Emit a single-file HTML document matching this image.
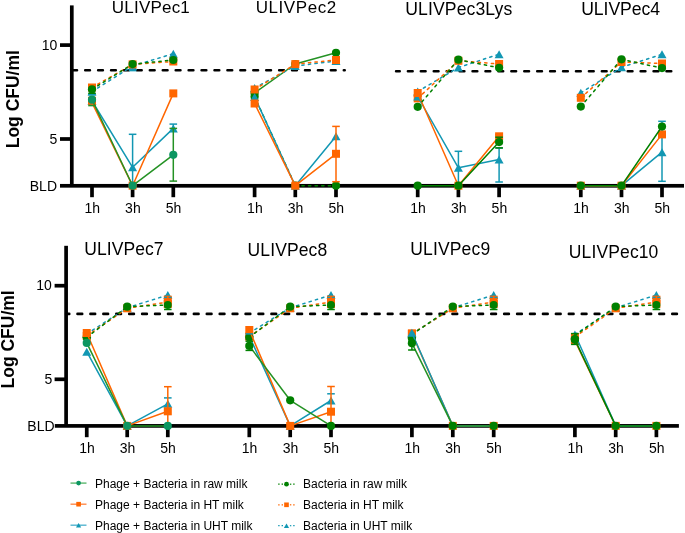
<!DOCTYPE html>
<html><head><meta charset="utf-8"><style>
html,body{margin:0;padding:0;background:#fff;}
svg{display:block;will-change:transform;}
text{font-family:"Liberation Sans",sans-serif;fill:#000;}
</style></head><body>
<svg width="685" height="533" viewBox="0 0 685 533">
<rect width="685" height="533" fill="#fff"/>
<rect x="60" y="183.95" width="624" height="3.7" fill="#000"/>
<rect x="69.95" y="5.4" width="3.7" height="180.4" fill="#000"/>
<rect x="60" y="43.25" width="11.8" height="3.7" fill="#000"/>
<rect x="60" y="137.15" width="11.8" height="3.7" fill="#000"/>
<rect x="90.15" y="185" width="3.7" height="12.2" fill="#000"/>
<rect x="130.75" y="185" width="3.7" height="12.2" fill="#000"/>
<rect x="171.45" y="185" width="3.7" height="12.2" fill="#000"/>
<rect x="252.75" y="185" width="3.7" height="12.2" fill="#000"/>
<rect x="293.45" y="185" width="3.7" height="12.2" fill="#000"/>
<rect x="334.15" y="185" width="3.7" height="12.2" fill="#000"/>
<rect x="415.85" y="185" width="3.7" height="12.2" fill="#000"/>
<rect x="456.55" y="185" width="3.7" height="12.2" fill="#000"/>
<rect x="497.25" y="185" width="3.7" height="12.2" fill="#000"/>
<rect x="578.95" y="185" width="3.7" height="12.2" fill="#000"/>
<rect x="619.65" y="185" width="3.7" height="12.2" fill="#000"/>
<rect x="660.15" y="185" width="3.7" height="12.2" fill="#000"/>
<rect x="54.8" y="424.05" width="624.1" height="3.7" fill="#000"/>
<rect x="64.25" y="245.8" width="3.7" height="180.1" fill="#000"/>
<rect x="54.6" y="283.85" width="11.5" height="3.7" fill="#000"/>
<rect x="54.6" y="377.45" width="11.5" height="3.7" fill="#000"/>
<rect x="84.9" y="425" width="3.7" height="12.2" fill="#000"/>
<rect x="125.35" y="425" width="3.7" height="12.2" fill="#000"/>
<rect x="165.95" y="425" width="3.7" height="12.2" fill="#000"/>
<rect x="247.45" y="425" width="3.7" height="12.2" fill="#000"/>
<rect x="288.35" y="425" width="3.7" height="12.2" fill="#000"/>
<rect x="329.15" y="425" width="3.7" height="12.2" fill="#000"/>
<rect x="410.05" y="425" width="3.7" height="12.2" fill="#000"/>
<rect x="450.95" y="425" width="3.7" height="12.2" fill="#000"/>
<rect x="491.85" y="425" width="3.7" height="12.2" fill="#000"/>
<rect x="573.05" y="425" width="3.7" height="12.2" fill="#000"/>
<rect x="613.85" y="425" width="3.7" height="12.2" fill="#000"/>
<rect x="654.55" y="425" width="3.7" height="12.2" fill="#000"/>
<line x1="72.3" y1="70.2" x2="344.7" y2="70.2" stroke="#000" stroke-width="2.6" stroke-linecap="round" stroke-dasharray="4.7 8.23"/>
<line x1="396.1" y1="71.3" x2="671.5" y2="71.3" stroke="#000" stroke-width="2.6" stroke-linecap="round" stroke-dasharray="4.7 8.23" stroke-dashoffset="1.1"/>
<line x1="66.1" y1="313.9" x2="676.9" y2="313.9" stroke="#000" stroke-width="2.6" stroke-linecap="round" stroke-dasharray="4.7 8.23" stroke-dashoffset="1.53"/>
<line x1="92" y1="91.6" x2="132.6" y2="66" stroke="#1297b3" stroke-width="1.5" stroke-linecap="round" stroke-dasharray="2.3 4.3"/>
<line x1="132.6" y1="66" x2="173.3" y2="53.7" stroke="#1297b3" stroke-width="1.5" stroke-linecap="round" stroke-dasharray="2.3 4.3"/>
<line x1="128.8" y1="70.6" x2="136.4" y2="70.6" stroke="#1297b3" stroke-width="1.5" stroke-linecap="butt"/>
<polygon points="92,87.6 87.5,95.6 96.5,95.6" fill="#1297b3"/>
<polygon points="132.6,62 128.1,70 137.1,70" fill="#1297b3"/>
<polygon points="173.3,49.7 168.8,57.7 177.8,57.7" fill="#1297b3"/>
<line x1="92" y1="87.5" x2="132.6" y2="64.4" stroke="#ff6600" stroke-width="1.5" stroke-linecap="round" stroke-dasharray="2.3 4.3"/>
<line x1="132.6" y1="64.4" x2="173.3" y2="61.5" stroke="#ff6600" stroke-width="1.5" stroke-linecap="round" stroke-dasharray="2.3 4.3"/>
<rect x="88" y="83.5" width="8" height="8" fill="#ff6600"/>
<rect x="128.6" y="60.4" width="8" height="8" fill="#ff6600"/>
<rect x="169.3" y="57.5" width="8" height="8" fill="#ff6600"/>
<line x1="92" y1="89.3" x2="132.6" y2="64.1" stroke="#008000" stroke-width="1.5" stroke-linecap="round" stroke-dasharray="2.3 4.3"/>
<line x1="132.6" y1="64.1" x2="173.3" y2="60" stroke="#008000" stroke-width="1.5" stroke-linecap="round" stroke-dasharray="2.3 4.3"/>
<line x1="88.2" y1="93.3" x2="95.8" y2="93.3" stroke="#008000" stroke-width="1.5" stroke-linecap="butt"/>
<circle cx="92" cy="89.3" r="4.1" fill="#008000"/>
<circle cx="132.6" cy="64.1" r="4.1" fill="#008000"/>
<circle cx="173.3" cy="60" r="4.1" fill="#008000"/>
<polyline points="92,101 132.6,167.3 173.3,128.4" fill="none" stroke="#1297b3" stroke-width="1.5" stroke-linejoin="round"/>
<line x1="132.6" y1="134.3" x2="132.6" y2="185.7" stroke="#1297b3" stroke-width="1.5" stroke-linecap="butt"/>
<line x1="128.8" y1="134.3" x2="136.4" y2="134.3" stroke="#1297b3" stroke-width="1.5" stroke-linecap="butt"/>
<line x1="173.3" y1="124.1" x2="173.3" y2="128" stroke="#1297b3" stroke-width="1.5" stroke-linecap="butt"/>
<line x1="169.5" y1="124.1" x2="177.1" y2="124.1" stroke="#1297b3" stroke-width="1.5" stroke-linecap="butt"/>
<line x1="88.2" y1="94.8" x2="95.8" y2="94.8" stroke="#1297b3" stroke-width="1.5" stroke-linecap="butt"/>
<polygon points="92,97 87.5,105 96.5,105" fill="#1297b3"/>
<polygon points="132.6,163.3 128.1,171.3 137.1,171.3" fill="#1297b3"/>
<polygon points="173.3,124.4 168.8,132.4 177.8,132.4" fill="#1297b3"/>
<polyline points="92,102.6 132.6,185.7 173.3,93.4" fill="none" stroke="#ff6600" stroke-width="1.5" stroke-linejoin="round"/>
<rect x="88" y="96.8" width="8" height="8" fill="#ff6600"/>
<rect x="128.6" y="181.7" width="8" height="8" fill="#ff6600"/>
<rect x="169.3" y="89.4" width="8" height="8" fill="#ff6600"/>
<polyline points="92,99.7 132.6,185.7 173.3,154.8" fill="none" stroke="#249224" stroke-width="1.5" stroke-linejoin="round"/>
<line x1="173.3" y1="128.4" x2="173.3" y2="181.1" stroke="#249224" stroke-width="1.5" stroke-linecap="butt"/>
<line x1="169.5" y1="128.4" x2="177.1" y2="128.4" stroke="#249224" stroke-width="1.5" stroke-linecap="butt"/>
<line x1="169.5" y1="181.1" x2="177.1" y2="181.1" stroke="#249224" stroke-width="1.5" stroke-linecap="butt"/>
<line x1="88.2" y1="105.6" x2="95.8" y2="105.6" stroke="#249224" stroke-width="1.5" stroke-linecap="butt"/>
<circle cx="92" cy="99.7" r="4.1" fill="#0c9661"/>
<circle cx="132.6" cy="185.7" r="4.1" fill="#0c9661"/>
<circle cx="173.3" cy="154.8" r="4.1" fill="#0c9661"/>
<polyline points="254.6,92.9 295.3,64 336,52.8" fill="none" stroke="#249224" stroke-width="1.5" stroke-linejoin="round"/>
<circle cx="254.6" cy="92.9" r="4.1" fill="#008000"/>
<circle cx="295.3" cy="64" r="4.1" fill="#008000"/>
<circle cx="336" cy="52.8" r="4.1" fill="#008000"/>
<line x1="254.6" y1="96.7" x2="295.3" y2="185.7" stroke="#008000" stroke-width="1.5" stroke-linecap="round" stroke-dasharray="2.3 4.3"/>
<line x1="295.3" y1="185.7" x2="336" y2="185.7" stroke="#008000" stroke-width="1.5" stroke-linecap="round" stroke-dasharray="2.3 4.3"/>
<circle cx="254.6" cy="96.7" r="4.1" fill="#008000"/>
<circle cx="295.3" cy="185.7" r="4.1" fill="#008000"/>
<circle cx="336" cy="185.7" r="4.1" fill="#008000"/>
<line x1="254.6" y1="88" x2="295.3" y2="66" stroke="#1297b3" stroke-width="1.5" stroke-linecap="round" stroke-dasharray="2.3 4.3"/>
<line x1="295.3" y1="66" x2="336" y2="61" stroke="#1297b3" stroke-width="1.5" stroke-linecap="round" stroke-dasharray="2.3 4.3"/>
<polygon points="254.6,84 250.1,92 259.1,92" fill="#1297b3"/>
<polygon points="295.3,62 290.8,70 299.8,70" fill="#1297b3"/>
<polygon points="336,57 331.5,65 340.5,65" fill="#1297b3"/>
<polyline points="254.6,96.9 295.3,185.7 336,136.2" fill="none" stroke="#1297b3" stroke-width="1.5" stroke-linejoin="round"/>
<polygon points="254.6,92.9 250.1,100.9 259.1,100.9" fill="#1297b3"/>
<polygon points="295.3,181.7 290.8,189.7 299.8,189.7" fill="#1297b3"/>
<polygon points="336,132.2 331.5,140.2 340.5,140.2" fill="#1297b3"/>
<line x1="254.6" y1="89.5" x2="295.3" y2="64.1" stroke="#ff6600" stroke-width="1.5" stroke-linecap="round" stroke-dasharray="2.3 4.3"/>
<line x1="295.3" y1="64.1" x2="336" y2="60" stroke="#ff6600" stroke-width="1.5" stroke-linecap="round" stroke-dasharray="2.3 4.3"/>
<rect x="250.6" y="85.5" width="8" height="8" fill="#ff6600"/>
<rect x="291.3" y="60.1" width="8" height="8" fill="#ff6600"/>
<rect x="332" y="56" width="8" height="8" fill="#ff6600"/>
<polyline points="254.6,103.5 295.3,185.7 336,153.8" fill="none" stroke="#ff6600" stroke-width="1.5" stroke-linejoin="round"/>
<line x1="336" y1="126.4" x2="336" y2="181.7" stroke="#ff6600" stroke-width="1.5" stroke-linecap="butt"/>
<line x1="332.2" y1="126.4" x2="339.8" y2="126.4" stroke="#ff6600" stroke-width="1.5" stroke-linecap="butt"/>
<line x1="332.2" y1="181.7" x2="339.8" y2="181.7" stroke="#ff6600" stroke-width="1.5" stroke-linecap="butt"/>
<rect x="250.6" y="99.5" width="8" height="8" fill="#ff6600"/>
<rect x="291.3" y="181.7" width="8" height="8" fill="#ff6600"/>
<rect x="332" y="149.8" width="8" height="8" fill="#ff6600"/>
<line x1="417.7" y1="91.5" x2="458.4" y2="67.5" stroke="#1297b3" stroke-width="1.5" stroke-linecap="round" stroke-dasharray="2.3 4.3"/>
<line x1="458.4" y1="67.5" x2="499.1" y2="54.2" stroke="#1297b3" stroke-width="1.5" stroke-linecap="round" stroke-dasharray="2.3 4.3"/>
<polygon points="417.7,87.5 413.2,95.5 422.2,95.5" fill="#1297b3"/>
<polygon points="458.4,63.5 453.9,71.5 462.9,71.5" fill="#1297b3"/>
<polygon points="499.1,50.2 494.6,58.2 503.6,58.2" fill="#1297b3"/>
<line x1="417.7" y1="98.4" x2="458.4" y2="60.8" stroke="#ff6600" stroke-width="1.5" stroke-linecap="round" stroke-dasharray="2.3 4.3"/>
<line x1="458.4" y1="60.8" x2="499.1" y2="64" stroke="#ff6600" stroke-width="1.5" stroke-linecap="round" stroke-dasharray="2.3 4.3"/>
<rect x="413.7" y="94.4" width="8" height="8" fill="#ff6600"/>
<rect x="454.4" y="56.8" width="8" height="8" fill="#ff6600"/>
<rect x="495.1" y="60" width="8" height="8" fill="#ff6600"/>
<polyline points="417.7,96.5 458.4,167.8 499.1,159.5" fill="none" stroke="#1297b3" stroke-width="1.5" stroke-linejoin="round"/>
<line x1="458.4" y1="151.3" x2="458.4" y2="185.7" stroke="#1297b3" stroke-width="1.5" stroke-linecap="butt"/>
<line x1="454.6" y1="151.3" x2="462.2" y2="151.3" stroke="#1297b3" stroke-width="1.5" stroke-linecap="butt"/>
<line x1="499.1" y1="148" x2="499.1" y2="182" stroke="#1297b3" stroke-width="1.5" stroke-linecap="butt"/>
<line x1="495.3" y1="148" x2="502.9" y2="148" stroke="#1297b3" stroke-width="1.5" stroke-linecap="butt"/>
<line x1="495.3" y1="182" x2="502.9" y2="182" stroke="#1297b3" stroke-width="1.5" stroke-linecap="butt"/>
<polygon points="417.7,92.5 413.2,100.5 422.2,100.5" fill="#1297b3"/>
<polygon points="458.4,163.8 453.9,171.8 462.9,171.8" fill="#1297b3"/>
<polygon points="499.1,155.5 494.6,163.5 503.6,163.5" fill="#1297b3"/>
<polyline points="417.7,93 458.4,185.7 499.1,136.3" fill="none" stroke="#ff6600" stroke-width="1.5" stroke-linejoin="round"/>
<line x1="495.3" y1="134.8" x2="502.9" y2="134.8" stroke="#ff6600" stroke-width="1.5" stroke-linecap="butt"/>
<rect x="413.7" y="89" width="8" height="8" fill="#ff6600"/>
<rect x="454.4" y="181.7" width="8" height="8" fill="#ff6600"/>
<rect x="495.1" y="132.3" width="8" height="8" fill="#ff6600"/>
<line x1="417.7" y1="106.8" x2="458.4" y2="59.7" stroke="#008000" stroke-width="1.5" stroke-linecap="round" stroke-dasharray="2.3 4.3"/>
<line x1="458.4" y1="59.7" x2="499.1" y2="67.8" stroke="#008000" stroke-width="1.5" stroke-linecap="round" stroke-dasharray="2.3 4.3"/>
<circle cx="417.7" cy="106.8" r="4.1" fill="#008000"/>
<circle cx="458.4" cy="59.7" r="4.1" fill="#008000"/>
<circle cx="499.1" cy="67.8" r="4.1" fill="#008000"/>
<polyline points="417.7,185.7 458.4,185.7 499.1,142.1" fill="none" stroke="#008000" stroke-width="1.5" stroke-linejoin="round"/>
<line x1="495.3" y1="137.2" x2="502.9" y2="137.2" stroke="#008000" stroke-width="1.5" stroke-linecap="butt"/>
<line x1="495.3" y1="147.9" x2="502.9" y2="147.9" stroke="#008000" stroke-width="1.5" stroke-linecap="butt"/>
<circle cx="417.7" cy="185.7" r="4.1" fill="#008000"/>
<circle cx="458.4" cy="185.7" r="4.1" fill="#008000"/>
<circle cx="499.1" cy="142.1" r="4.1" fill="#008000"/>
<line x1="580.8" y1="92.8" x2="621.5" y2="67.3" stroke="#1297b3" stroke-width="1.5" stroke-linecap="round" stroke-dasharray="2.3 4.3"/>
<line x1="621.5" y1="67.3" x2="662" y2="54.3" stroke="#1297b3" stroke-width="1.5" stroke-linecap="round" stroke-dasharray="2.3 4.3"/>
<polygon points="580.8,88.8 576.3,96.8 585.3,96.8" fill="#1297b3"/>
<polygon points="621.5,63.3 617,71.3 626,71.3" fill="#1297b3"/>
<polygon points="662,50.3 657.5,58.3 666.5,58.3" fill="#1297b3"/>
<line x1="580.8" y1="97.8" x2="621.5" y2="62" stroke="#ff6600" stroke-width="1.5" stroke-linecap="round" stroke-dasharray="2.3 4.3"/>
<line x1="621.5" y1="62" x2="662" y2="63.5" stroke="#ff6600" stroke-width="1.5" stroke-linecap="round" stroke-dasharray="2.3 4.3"/>
<rect x="576.8" y="93.8" width="8" height="8" fill="#ff6600"/>
<rect x="617.5" y="58" width="8" height="8" fill="#ff6600"/>
<rect x="658" y="59.5" width="8" height="8" fill="#ff6600"/>
<line x1="580.8" y1="106.6" x2="621.5" y2="59.3" stroke="#008000" stroke-width="1.5" stroke-linecap="round" stroke-dasharray="2.3 4.3"/>
<line x1="621.5" y1="59.3" x2="662" y2="68.1" stroke="#008000" stroke-width="1.5" stroke-linecap="round" stroke-dasharray="2.3 4.3"/>
<circle cx="580.8" cy="106.6" r="4.1" fill="#008000"/>
<circle cx="621.5" cy="59.3" r="4.1" fill="#008000"/>
<circle cx="662" cy="68.1" r="4.1" fill="#008000"/>
<polyline points="580.8,185.7 621.5,185.7 662,152.2" fill="none" stroke="#1297b3" stroke-width="1.5" stroke-linejoin="round"/>
<line x1="662" y1="121.3" x2="662" y2="181.3" stroke="#1297b3" stroke-width="1.5" stroke-linecap="butt"/>
<line x1="658.2" y1="121.3" x2="665.8" y2="121.3" stroke="#1297b3" stroke-width="1.5" stroke-linecap="butt"/>
<line x1="658.2" y1="181.3" x2="665.8" y2="181.3" stroke="#1297b3" stroke-width="1.5" stroke-linecap="butt"/>
<polygon points="580.8,181.7 576.3,189.7 585.3,189.7" fill="#1297b3"/>
<polygon points="621.5,181.7 617,189.7 626,189.7" fill="#1297b3"/>
<polygon points="662,148.2 657.5,156.2 666.5,156.2" fill="#1297b3"/>
<polyline points="580.8,185.7 621.5,185.7 662,134.4" fill="none" stroke="#ff6600" stroke-width="1.5" stroke-linejoin="round"/>
<rect x="576.8" y="181.7" width="8" height="8" fill="#ff6600"/>
<rect x="617.5" y="181.7" width="8" height="8" fill="#ff6600"/>
<rect x="658" y="130.4" width="8" height="8" fill="#ff6600"/>
<polyline points="580.8,185.7 621.5,185.7 662,126.5" fill="none" stroke="#008000" stroke-width="1.5" stroke-linejoin="round"/>
<circle cx="580.8" cy="185.7" r="4.1" fill="#008000"/>
<circle cx="621.5" cy="185.7" r="4.1" fill="#008000"/>
<circle cx="662" cy="126.5" r="4.1" fill="#008000"/>
<line x1="86.75" y1="334" x2="127.2" y2="307.8" stroke="#1297b3" stroke-width="1.5" stroke-linecap="round" stroke-dasharray="2.3 4.3"/>
<line x1="127.2" y1="307.8" x2="167.8" y2="295" stroke="#1297b3" stroke-width="1.5" stroke-linecap="round" stroke-dasharray="2.3 4.3"/>
<polygon points="86.75,330 82.25,338 91.25,338" fill="#1297b3"/>
<polygon points="127.2,303.8 122.7,311.8 131.7,311.8" fill="#1297b3"/>
<line x1="86.75" y1="336" x2="127.2" y2="308.3" stroke="#ff6600" stroke-width="1.5" stroke-linecap="round" stroke-dasharray="2.3 4.3"/>
<line x1="127.2" y1="308.3" x2="167.8" y2="302" stroke="#ff6600" stroke-width="1.5" stroke-linecap="round" stroke-dasharray="2.3 4.3"/>
<rect x="82.75" y="332" width="8" height="8" fill="#ff6600"/>
<rect x="123.2" y="304.3" width="8" height="8" fill="#ff6600"/>
<line x1="86.75" y1="337.3" x2="127.2" y2="306.7" stroke="#008000" stroke-width="1.5" stroke-linecap="round" stroke-dasharray="2.3 4.3"/>
<line x1="127.2" y1="306.7" x2="167.8" y2="305" stroke="#008000" stroke-width="1.5" stroke-linecap="round" stroke-dasharray="2.3 4.3"/>
<line x1="82.95" y1="337.7" x2="90.55" y2="337.7" stroke="#008000" stroke-width="1.5" stroke-linecap="butt"/>
<circle cx="86.75" cy="337.3" r="4.1" fill="#008000"/>
<circle cx="127.2" cy="306.7" r="4.1" fill="#008000"/>
<polyline points="86.75,351.7 127.2,425.9 167.8,403.8" fill="none" stroke="#1297b3" stroke-width="1.5" stroke-linejoin="round"/>
<line x1="164" y1="397.9" x2="171.6" y2="397.9" stroke="#1297b3" stroke-width="1.5" stroke-linecap="butt"/>
<polygon points="86.75,347.7 82.25,355.7 91.25,355.7" fill="#1297b3"/>
<polygon points="127.2,421.9 122.7,429.9 131.7,429.9" fill="#1297b3"/>
<polygon points="167.8,399.8 163.3,407.8 172.3,407.8" fill="#1297b3"/>
<polyline points="86.75,333 127.2,425.9 167.8,411.3" fill="none" stroke="#ff6600" stroke-width="1.5" stroke-linejoin="round"/>
<line x1="167.8" y1="386.7" x2="167.8" y2="425.9" stroke="#ff6600" stroke-width="1.5" stroke-linecap="butt"/>
<line x1="164" y1="386.7" x2="171.6" y2="386.7" stroke="#ff6600" stroke-width="1.5" stroke-linecap="butt"/>
<rect x="82.75" y="329" width="8" height="8" fill="#ff6600"/>
<rect x="123.2" y="421.9" width="8" height="8" fill="#ff6600"/>
<rect x="163.8" y="407.3" width="8" height="8" fill="#ff6600"/>
<polyline points="86.75,342.9 127.2,425.9 167.8,425.9" fill="none" stroke="#249224" stroke-width="1.5" stroke-linejoin="round"/>
<circle cx="86.75" cy="342.9" r="4.1" fill="#0c9661"/>
<circle cx="127.2" cy="425.9" r="4.1" fill="#0c9661"/>
<circle cx="167.8" cy="425.9" r="4.1" fill="#0c9661"/>
<polygon points="167.8,290.9 163.3,298.9 172.3,298.9" fill="#1297b3"/>
<rect x="163.8" y="295.7" width="8" height="8" fill="#ff6600"/>
<line x1="164" y1="297.4" x2="171.6" y2="297.4" stroke="#1297b3" stroke-width="1.3" stroke-linecap="butt"/>
<line x1="167.8" y1="295.8" x2="167.8" y2="300" stroke="#ff6600" stroke-width="1.6" stroke-linecap="butt"/>
<rect x="163.8" y="300" width="8" height="8" fill="#ff6600"/>
<circle cx="167.8" cy="305" r="3.98" fill="#008000"/>
<line x1="164" y1="309.5" x2="171.6" y2="309.5" stroke="#008000" stroke-width="1.5" stroke-linecap="butt"/>
<line x1="249.3" y1="333" x2="290.2" y2="307.8" stroke="#1297b3" stroke-width="1.5" stroke-linecap="round" stroke-dasharray="2.3 4.3"/>
<line x1="290.2" y1="307.8" x2="331" y2="295" stroke="#1297b3" stroke-width="1.5" stroke-linecap="round" stroke-dasharray="2.3 4.3"/>
<polygon points="249.3,329 244.8,337 253.8,337" fill="#1297b3"/>
<polygon points="290.2,303.8 285.7,311.8 294.7,311.8" fill="#1297b3"/>
<polyline points="249.3,336 290.2,425.9 331,400.5" fill="none" stroke="#1297b3" stroke-width="1.5" stroke-linejoin="round"/>
<line x1="327.2" y1="393.8" x2="334.8" y2="393.8" stroke="#1297b3" stroke-width="1.5" stroke-linecap="butt"/>
<polygon points="249.3,332 244.8,340 253.8,340" fill="#1297b3"/>
<polygon points="290.2,421.9 285.7,429.9 294.7,429.9" fill="#1297b3"/>
<polygon points="331,396.5 326.5,404.5 335.5,404.5" fill="#1297b3"/>
<line x1="249.3" y1="336.6" x2="290.2" y2="308.3" stroke="#ff6600" stroke-width="1.5" stroke-linecap="round" stroke-dasharray="2.3 4.3"/>
<line x1="290.2" y1="308.3" x2="331" y2="302" stroke="#ff6600" stroke-width="1.5" stroke-linecap="round" stroke-dasharray="2.3 4.3"/>
<rect x="245.3" y="332.6" width="8" height="8" fill="#ff6600"/>
<rect x="286.2" y="304.3" width="8" height="8" fill="#ff6600"/>
<line x1="249.3" y1="337.25" x2="290.2" y2="306.7" stroke="#008000" stroke-width="1.5" stroke-linecap="round" stroke-dasharray="2.3 4.3"/>
<line x1="290.2" y1="306.7" x2="331" y2="305" stroke="#008000" stroke-width="1.5" stroke-linecap="round" stroke-dasharray="2.3 4.3"/>
<circle cx="249.3" cy="337.25" r="4.1" fill="#008000"/>
<circle cx="290.2" cy="306.7" r="4.1" fill="#008000"/>
<polyline points="249.3,330 290.2,425.9 331,411.7" fill="none" stroke="#ff6600" stroke-width="1.5" stroke-linejoin="round"/>
<line x1="331" y1="386.5" x2="331" y2="425.9" stroke="#ff6600" stroke-width="1.5" stroke-linecap="butt"/>
<line x1="327.2" y1="386.5" x2="334.8" y2="386.5" stroke="#ff6600" stroke-width="1.5" stroke-linecap="butt"/>
<rect x="245.3" y="326" width="8" height="8" fill="#ff6600"/>
<rect x="286.2" y="421.9" width="8" height="8" fill="#ff6600"/>
<rect x="327" y="407.7" width="8" height="8" fill="#ff6600"/>
<polyline points="249.3,345.9 290.2,400.3 331,425.9" fill="none" stroke="#249224" stroke-width="1.5" stroke-linejoin="round"/>
<line x1="245.5" y1="341.2" x2="253.1" y2="341.2" stroke="#008000" stroke-width="1.5" stroke-linecap="butt"/>
<line x1="245.5" y1="350.4" x2="253.1" y2="350.4" stroke="#008000" stroke-width="1.5" stroke-linecap="butt"/>
<circle cx="249.3" cy="345.9" r="4.1" fill="#008000"/>
<circle cx="290.2" cy="400.3" r="4.1" fill="#008000"/>
<circle cx="331" cy="425.9" r="4.1" fill="#008000"/>
<line x1="245.5" y1="333.9" x2="253.1" y2="333.9" stroke="#1297b3" stroke-width="1.5" stroke-linecap="butt"/>
<polygon points="331,290.9 326.5,298.9 335.5,298.9" fill="#1297b3"/>
<rect x="327" y="295.7" width="8" height="8" fill="#ff6600"/>
<line x1="327.2" y1="297.4" x2="334.8" y2="297.4" stroke="#1297b3" stroke-width="1.3" stroke-linecap="butt"/>
<line x1="331" y1="295.8" x2="331" y2="300" stroke="#ff6600" stroke-width="1.6" stroke-linecap="butt"/>
<rect x="327" y="300" width="8" height="8" fill="#ff6600"/>
<circle cx="331" cy="305" r="3.98" fill="#008000"/>
<line x1="327.2" y1="309.5" x2="334.8" y2="309.5" stroke="#008000" stroke-width="1.5" stroke-linecap="butt"/>
<line x1="411.9" y1="334" x2="452.8" y2="307.8" stroke="#1297b3" stroke-width="1.5" stroke-linecap="round" stroke-dasharray="2.3 4.3"/>
<line x1="452.8" y1="307.8" x2="493.7" y2="295" stroke="#1297b3" stroke-width="1.5" stroke-linecap="round" stroke-dasharray="2.3 4.3"/>
<polygon points="411.9,330 407.4,338 416.4,338" fill="#1297b3"/>
<polygon points="452.8,303.8 448.3,311.8 457.3,311.8" fill="#1297b3"/>
<line x1="411.9" y1="333.8" x2="452.8" y2="308.3" stroke="#ff6600" stroke-width="1.5" stroke-linecap="round" stroke-dasharray="2.3 4.3"/>
<line x1="452.8" y1="308.3" x2="493.7" y2="302" stroke="#ff6600" stroke-width="1.5" stroke-linecap="round" stroke-dasharray="2.3 4.3"/>
<rect x="407.9" y="329.8" width="8" height="8" fill="#ff6600"/>
<rect x="448.8" y="304.3" width="8" height="8" fill="#ff6600"/>
<polyline points="411.9,333.4 452.8,425.9 493.7,425.9" fill="none" stroke="#ff6600" stroke-width="1.5" stroke-linejoin="round"/>
<rect x="407.9" y="329.4" width="8" height="8" fill="#ff6600"/>
<rect x="448.8" y="421.9" width="8" height="8" fill="#ff6600"/>
<rect x="489.7" y="421.9" width="8" height="8" fill="#ff6600"/>
<line x1="411.9" y1="334.5" x2="452.8" y2="306.6" stroke="#008000" stroke-width="1.5" stroke-linecap="round" stroke-dasharray="2.3 4.3"/>
<line x1="452.8" y1="306.6" x2="493.7" y2="305" stroke="#008000" stroke-width="1.5" stroke-linecap="round" stroke-dasharray="2.3 4.3"/>
<circle cx="411.9" cy="338.3" r="4.1" fill="#008000"/>
<circle cx="452.8" cy="306.6" r="4.1" fill="#008000"/>
<polyline points="411.9,332.8 452.8,425.9 493.7,425.9" fill="none" stroke="#1297b3" stroke-width="1.5" stroke-linejoin="round"/>
<polygon points="411.9,328.8 407.4,336.8 416.4,336.8" fill="#1297b3"/>
<polyline points="411.9,343.2 452.8,425.9 493.7,425.9" fill="none" stroke="#249224" stroke-width="1.5" stroke-linejoin="round"/>
<line x1="411.9" y1="343.2" x2="411.9" y2="350" stroke="#008000" stroke-width="1.5" stroke-linecap="butt"/>
<line x1="408.1" y1="350" x2="415.7" y2="350" stroke="#008000" stroke-width="1.5" stroke-linecap="butt"/>
<circle cx="411.9" cy="343.2" r="4.1" fill="#008000"/>
<circle cx="452.8" cy="425.9" r="4.1" fill="#008000"/>
<circle cx="493.7" cy="425.9" r="4.1" fill="#008000"/>
<polygon points="493.7,290.9 489.2,298.9 498.2,298.9" fill="#1297b3"/>
<rect x="489.7" y="295.7" width="8" height="8" fill="#ff6600"/>
<line x1="489.9" y1="297.4" x2="497.5" y2="297.4" stroke="#1297b3" stroke-width="1.3" stroke-linecap="butt"/>
<line x1="493.7" y1="295.8" x2="493.7" y2="300" stroke="#ff6600" stroke-width="1.6" stroke-linecap="butt"/>
<rect x="489.7" y="300" width="8" height="8" fill="#ff6600"/>
<circle cx="493.7" cy="305" r="3.98" fill="#008000"/>
<line x1="489.9" y1="309.5" x2="497.5" y2="309.5" stroke="#008000" stroke-width="1.5" stroke-linecap="butt"/>
<line x1="574.9" y1="334.5" x2="615.7" y2="307.8" stroke="#1297b3" stroke-width="1.5" stroke-linecap="round" stroke-dasharray="2.3 4.3"/>
<line x1="615.7" y1="307.8" x2="656.4" y2="295" stroke="#1297b3" stroke-width="1.5" stroke-linecap="round" stroke-dasharray="2.3 4.3"/>
<polygon points="574.9,330.5 570.4,338.5 579.4,338.5" fill="#1297b3"/>
<polygon points="615.7,303.8 611.2,311.8 620.2,311.8" fill="#1297b3"/>
<line x1="574.9" y1="337" x2="615.7" y2="308.3" stroke="#ff6600" stroke-width="1.5" stroke-linecap="round" stroke-dasharray="2.3 4.3"/>
<line x1="615.7" y1="308.3" x2="656.4" y2="302" stroke="#ff6600" stroke-width="1.5" stroke-linecap="round" stroke-dasharray="2.3 4.3"/>
<rect x="570.9" y="333" width="8" height="8" fill="#ff6600"/>
<rect x="611.7" y="304.3" width="8" height="8" fill="#ff6600"/>
<polyline points="574.9,340.6 615.7,425.9 656.4,425.9" fill="none" stroke="#ff6600" stroke-width="1.5" stroke-linejoin="round"/>
<rect x="570.9" y="336.6" width="8" height="8" fill="#ff6600"/>
<rect x="611.7" y="421.9" width="8" height="8" fill="#ff6600"/>
<rect x="652.4" y="421.9" width="8" height="8" fill="#ff6600"/>
<polyline points="574.9,334 615.7,425.9 656.4,425.9" fill="none" stroke="#1297b3" stroke-width="1.5" stroke-linejoin="round"/>
<line x1="574.9" y1="335.5" x2="615.7" y2="306.6" stroke="#008000" stroke-width="1.5" stroke-linecap="round" stroke-dasharray="2.3 4.3"/>
<line x1="615.7" y1="306.6" x2="656.4" y2="305" stroke="#008000" stroke-width="1.5" stroke-linecap="round" stroke-dasharray="2.3 4.3"/>
<line x1="574.9" y1="333.6" x2="574.9" y2="344.4" stroke="#008000" stroke-width="1.5" stroke-linecap="butt"/>
<line x1="571.1" y1="333.6" x2="578.7" y2="333.6" stroke="#008000" stroke-width="1.5" stroke-linecap="butt"/>
<line x1="571.1" y1="344.4" x2="578.7" y2="344.4" stroke="#008000" stroke-width="1.5" stroke-linecap="butt"/>
<circle cx="574.9" cy="339.1" r="4.1" fill="#008000"/>
<circle cx="615.7" cy="306.6" r="4.1" fill="#008000"/>
<polyline points="574.9,339.6 615.7,425.9 656.4,425.9" fill="none" stroke="#008000" stroke-width="1.5" stroke-linejoin="round"/>
<circle cx="574.9" cy="339.6" r="4.1" fill="#008000"/>
<circle cx="615.7" cy="425.9" r="4.1" fill="#008000"/>
<circle cx="656.4" cy="425.9" r="4.1" fill="#008000"/>
<polygon points="656.4,290.9 651.9,298.9 660.9,298.9" fill="#1297b3"/>
<rect x="652.4" y="295.7" width="8" height="8" fill="#ff6600"/>
<line x1="652.6" y1="297.4" x2="660.2" y2="297.4" stroke="#1297b3" stroke-width="1.3" stroke-linecap="butt"/>
<line x1="656.4" y1="295.8" x2="656.4" y2="300" stroke="#ff6600" stroke-width="1.6" stroke-linecap="butt"/>
<rect x="652.4" y="300" width="8" height="8" fill="#ff6600"/>
<circle cx="656.4" cy="305" r="3.98" fill="#008000"/>
<line x1="652.6" y1="309.5" x2="660.2" y2="309.5" stroke="#008000" stroke-width="1.5" stroke-linecap="butt"/>
<line x1="70.5" y1="483.1" x2="86.5" y2="483.1" stroke="#5cb86e" stroke-width="1.4" stroke-linecap="butt"/>
<circle cx="78.6" cy="483.1" r="2.38" fill="#0c9661"/>
<line x1="278.2" y1="484.2" x2="279.6" y2="484.2" stroke="#008000" stroke-width="1.2" stroke-linecap="butt"/>
<line x1="281.6" y1="484.2" x2="283" y2="484.2" stroke="#008000" stroke-width="1.2" stroke-linecap="butt"/>
<line x1="289.9" y1="484.2" x2="291.3" y2="484.2" stroke="#008000" stroke-width="1.2" stroke-linecap="butt"/>
<line x1="293.2" y1="484.2" x2="294.6" y2="484.2" stroke="#008000" stroke-width="1.2" stroke-linecap="butt"/>
<circle cx="286.5" cy="484.2" r="2.38" fill="#008000"/>
<line x1="70.5" y1="504.2" x2="86.5" y2="504.2" stroke="#ff8a4a" stroke-width="1.4" stroke-linecap="butt"/>
<rect x="76.28" y="501.88" width="4.64" height="4.64" fill="#ff6600"/>
<line x1="278.2" y1="504.8" x2="279.6" y2="504.8" stroke="#ff6600" stroke-width="1.2" stroke-linecap="butt"/>
<line x1="281.6" y1="504.8" x2="283" y2="504.8" stroke="#ff6600" stroke-width="1.2" stroke-linecap="butt"/>
<line x1="289.9" y1="504.8" x2="291.3" y2="504.8" stroke="#ff6600" stroke-width="1.2" stroke-linecap="butt"/>
<line x1="293.2" y1="504.8" x2="294.6" y2="504.8" stroke="#ff6600" stroke-width="1.2" stroke-linecap="butt"/>
<rect x="284.18" y="502.48" width="4.64" height="4.64" fill="#ff6600"/>
<line x1="70.5" y1="525.2" x2="86.5" y2="525.2" stroke="#55b5d0" stroke-width="1.4" stroke-linecap="butt"/>
<polygon points="78.6,522.88 75.99,527.52 81.21,527.52" fill="#1297b3"/>
<line x1="278.2" y1="525.7" x2="279.6" y2="525.7" stroke="#1297b3" stroke-width="1.2" stroke-linecap="butt"/>
<line x1="281.6" y1="525.7" x2="283" y2="525.7" stroke="#1297b3" stroke-width="1.2" stroke-linecap="butt"/>
<line x1="289.9" y1="525.7" x2="291.3" y2="525.7" stroke="#1297b3" stroke-width="1.2" stroke-linecap="butt"/>
<line x1="293.2" y1="525.7" x2="294.6" y2="525.7" stroke="#1297b3" stroke-width="1.2" stroke-linecap="butt"/>
<polygon points="286.5,523.38 283.89,528.02 289.11,528.02" fill="#1297b3"/>
<text x="111.8" y="13.1" font-size="17" textLength="78.03">ULIVPec1</text>
<text x="255.7" y="13.1" font-size="17" textLength="80.54">ULIVPec2</text>
<text x="405.2" y="14.7" font-size="17.6" textLength="107.08">ULIVPec3Lys</text>
<text x="581.2" y="15.1" font-size="17.6" textLength="78.78">ULIVPec4</text>
<text x="84.2" y="255" font-size="17.5" textLength="79.36">ULIVPec7</text>
<text x="247.6" y="256" font-size="17.5" textLength="79.59">ULIVPec8</text>
<text x="410.3" y="254.9" font-size="17.5" textLength="79.82">ULIVPec9</text>
<text x="568.8" y="257.7" font-size="17.5" textLength="89.54">ULIVPec10</text>
<text x="57.3" y="50.2" font-size="14" text-anchor="end">10</text>
<text x="57.3" y="143.7" font-size="14" text-anchor="end">5</text>
<text x="57" y="190.9" font-size="14" text-anchor="end">BLD</text>
<text x="51.8" y="290.3" font-size="14" text-anchor="end">10</text>
<text x="52.3" y="384.3" font-size="14" text-anchor="end">5</text>
<text x="54.6" y="430.5" font-size="14" text-anchor="end">BLD</text>
<text x="92.3" y="212.5" font-size="14" text-anchor="middle">1h</text>
<text x="132.9" y="212.5" font-size="14" text-anchor="middle">3h</text>
<text x="173.6" y="212.5" font-size="14" text-anchor="middle">5h</text>
<text x="254.9" y="212.5" font-size="14" text-anchor="middle">1h</text>
<text x="295.6" y="212.5" font-size="14" text-anchor="middle">3h</text>
<text x="336.3" y="212.5" font-size="14" text-anchor="middle">5h</text>
<text x="418" y="212.5" font-size="14" text-anchor="middle">1h</text>
<text x="458.7" y="212.5" font-size="14" text-anchor="middle">3h</text>
<text x="499.4" y="212.5" font-size="14" text-anchor="middle">5h</text>
<text x="581.1" y="212.5" font-size="14" text-anchor="middle">1h</text>
<text x="621.8" y="212.5" font-size="14" text-anchor="middle">3h</text>
<text x="662.3" y="212.5" font-size="14" text-anchor="middle">5h</text>
<text x="87.05" y="452.5" font-size="14" text-anchor="middle">1h</text>
<text x="127.5" y="452.5" font-size="14" text-anchor="middle">3h</text>
<text x="168.1" y="452.5" font-size="14" text-anchor="middle">5h</text>
<text x="249.6" y="452.5" font-size="14" text-anchor="middle">1h</text>
<text x="290.5" y="452.5" font-size="14" text-anchor="middle">3h</text>
<text x="331.3" y="452.5" font-size="14" text-anchor="middle">5h</text>
<text x="412.2" y="452.5" font-size="14" text-anchor="middle">1h</text>
<text x="453.1" y="452.5" font-size="14" text-anchor="middle">3h</text>
<text x="494" y="452.5" font-size="14" text-anchor="middle">5h</text>
<text x="575.2" y="452.5" font-size="14" text-anchor="middle">1h</text>
<text x="616" y="452.5" font-size="14" text-anchor="middle">3h</text>
<text x="656.7" y="452.5" font-size="14" text-anchor="middle">5h</text>
<text transform="translate(18.8,99.2) rotate(-90)" font-size="17.5" font-weight="bold" text-anchor="middle">Log CFU/ml</text>
<text transform="translate(13.5,339.4) rotate(-90)" font-size="17.5" font-weight="bold" text-anchor="middle">Log CFU/ml</text>
<text x="95" y="487.6" font-size="12" fill="#1a1a1a">Phage + Bacteria in raw milk</text>
<text x="303" y="488.3" font-size="12" fill="#1a1a1a">Bacteria in raw milk</text>
<text x="95" y="508.7" font-size="12" fill="#1a1a1a">Phage + Bacteria in HT milk</text>
<text x="303" y="508.9" font-size="12" fill="#1a1a1a">Bacteria in HT milk</text>
<text x="95" y="529.7" font-size="12" fill="#1a1a1a">Phage + Bacteria in UHT milk</text>
<text x="303" y="529.8" font-size="12" fill="#1a1a1a">Bacteria in UHT milk</text>
</svg>
</body></html>
